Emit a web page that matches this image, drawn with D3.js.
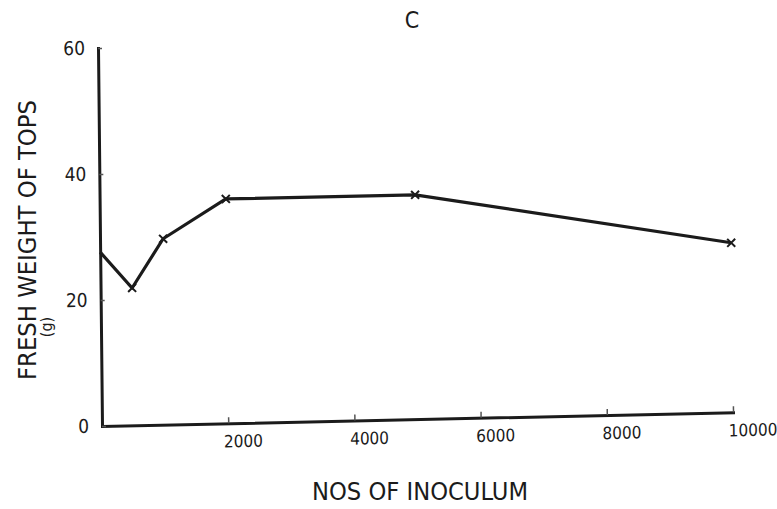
<!DOCTYPE html>
<meta charset="utf-8">
<head>
<title>C - fresh weight of tops</title>
<script src="https://d3js.org/d3.v7.min.js"></script>
<style>
  body { margin: 0; background: #fff; }
  text { font-family: "DejaVu Sans Condensed", "DejaVu Sans", sans-serif; fill: #1b1b1b; }
</style>
</head>
<body>
<div id="chart"></div>
<script>
  // data
  var inoculum = [0, 500, 1000, 2000, 5000, 10000];
  var freshWeight = [27.6, 21.8, 29.5, 35.6, 35.6, 26.9];
  var xTicks = [2000, 4000, 6000, 8000, 10000];
  var yTicks = [0, 20, 40, 60];

  var W = 777, H = 509;
  var origin = {x: 102, y: 426};
  var plotW = 631, plotH = 378;

  var svg = d3.select("#chart").append("svg")
    .attr("width", W).attr("height", H)
    .style("background", "#fff");

  // the scanned figure is slightly skewed, keep that
  var g = svg.append("g")
    .attr("transform", "matrix(1,-0.0218,0.0106,1," + origin.x + "," + origin.y + ")");

  var x = d3.scaleLinear().domain([0, 10000]).range([0, plotW]);
  var y = d3.scaleLinear().domain([0, 60]).range([0, -plotH]);

  // x axis
  var gx = g.append("g")
    .call(d3.axisBottom(x).tickValues(xTicks).tickSizeInner(-6).tickSizeOuter(0)
      .tickPadding(12).tickFormat(d3.format("d")));
  gx.selectAll("text")
    .attr("text-anchor", "start")
    .attr("dx", -5)
    .style("font-size", "17px");

  // y axis
  var gy = g.append("g")
    .call(d3.axisLeft(y).tickValues(yTicks).tickSizeInner(-4).tickSizeOuter(0)
      .tickPadding(13));
  gy.selectAll("text").style("font-size", "19px");

  g.selectAll(".domain")
    .attr("stroke", "#1b1b1b")
    .attr("stroke-width", 3)
    .attr("stroke-linecap", "square");
  g.selectAll(".tick line")
    .attr("stroke", "#555")
    .attr("stroke-width", 1.5);

  // line
  var pts = inoculum.map(function(d, i) { return {x: d, v: freshWeight[i]}; });
  g.append("path")
    .datum(pts)
    .attr("fill", "none")
    .attr("stroke", "#1b1b1b")
    .attr("stroke-width", 3.2)
    .attr("stroke-linejoin", "round")
    .attr("d", d3.line().x(function(d) { return x(d.x); }).y(function(d) { return y(d.v); }));

  // x markers
  g.selectAll(".mk")
    .data(pts.filter(function(d) { return d.x > 0; }))
    .enter().append("path")
    .attr("class", "mk")
    .attr("transform", function(d) { return "translate(" + x(d.x) + "," + y(d.v) + ")"; })
    .attr("d", "M-4,-4L4,4M-4,4L4,-4")
    .attr("stroke", "#1b1b1b")
    .attr("stroke-width", 2);

  // title
  svg.append("text")
    .attr("x", 412).attr("y", 28)
    .attr("text-anchor", "middle")
    .style("font-size", "23px")
    .text("C");

  // axis titles
  svg.append("text")
    .attr("x", 420).attr("y", 500)
    .attr("text-anchor", "middle")
    .attr("textLength", 216)
    .attr("lengthAdjust", "spacingAndGlyphs")
    .style("font-size", "24px")
    .text("NOS OF INOCULUM");

  svg.append("text")
    .attr("transform", "translate(36,240) rotate(-90)")
    .attr("text-anchor", "middle")
    .attr("textLength", 280)
    .attr("lengthAdjust", "spacingAndGlyphs")
    .style("font-size", "24px")
    .text("FRESH WEIGHT OF TOPS");

  svg.append("text")
    .attr("transform", "translate(52,327) rotate(-90)")
    .attr("text-anchor", "middle")
    .style("font-size", "16px")
    .text("(g)");
</script>
</body>
